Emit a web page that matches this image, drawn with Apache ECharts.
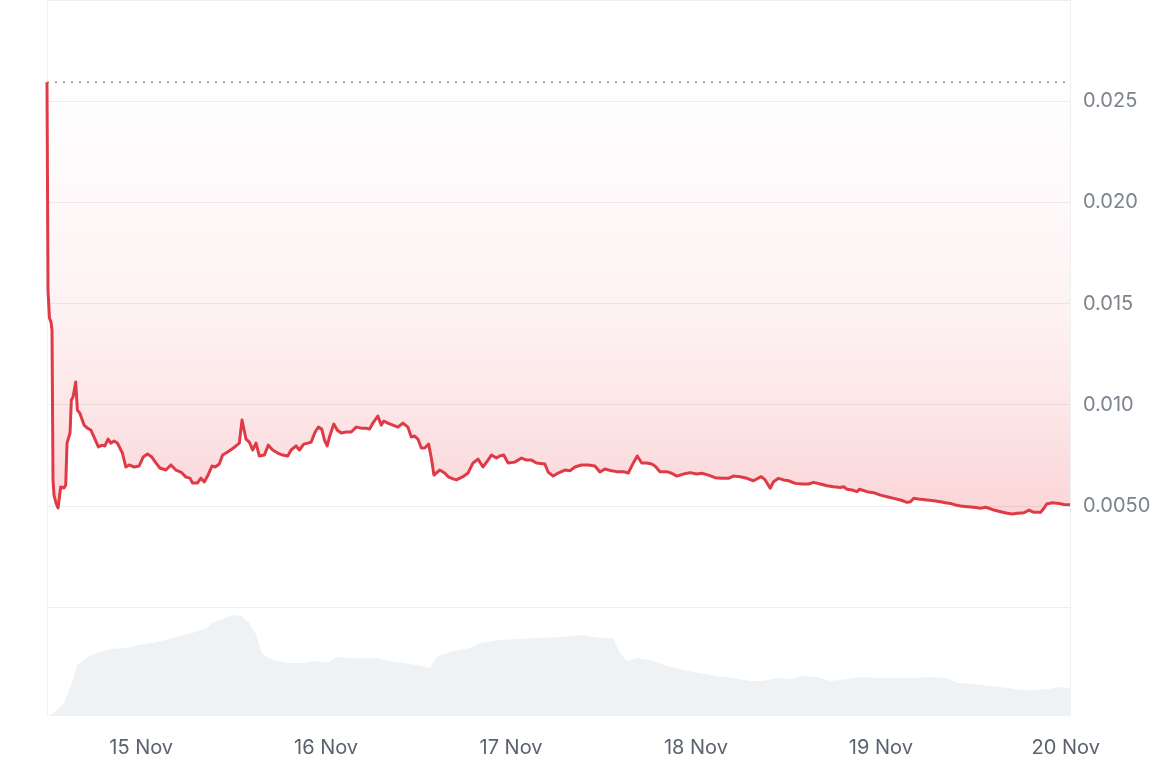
<!DOCTYPE html>
<html>
<head>
<meta charset="utf-8">
<script src="https://cdn.jsdelivr.net/npm/echarts@6/dist/echarts.min.js"></script>
<style>
  html, body { margin: 0; padding: 0; background: #ffffff; }
  #chart { width: 1165px; height: 778px; }
</style>
</head>
<body>
<div id="chart"></div>
<script>
// Time origin: 14 Nov 2024 00:00 UTC; times below are hours after it.
const ORIGIN = Date.UTC(2024, 10, 14);
const MONTHS = ['Jan','Feb','Mar','Apr','May','Jun','Jul','Aug','Sep','Oct','Nov','Dec'];

const priceHours = [
  11.78, 11.91, 12.10, 12.30, 12.43, 12.56, 12.69, 12.95, 13.21, 13.56,
  13.99, 14.21, 14.38, 14.77, 14.94, 15.16, 15.51, 15.72, 16.03, 16.59,
  17.02, 17.46, 17.89, 18.45, 18.93, 19.28, 19.71, 20.06, 20.49, 20.92,
  21.57, 22.01, 22.44, 23.09, 23.74, 24.26, 24.82, 25.39, 25.91, 26.43,
  27.21, 27.86, 28.51, 29.16, 29.81, 30.33, 30.67, 31.32, 31.76, 32.19,
  32.62, 33.19, 33.62, 34.14, 34.57, 35.22, 35.79, 36.31, 36.74, 37.09,
  37.61, 38.04, 38.47, 38.91, 39.34, 39.99, 40.51, 41.07, 41.72, 42.37,
  43.02, 43.46, 44.11, 44.54, 45.10, 45.62, 46.06, 46.58, 47.01, 47.44,
  47.79, 48.14, 48.44, 49.00, 49.44, 49.96, 50.61, 51.26, 51.91, 52.56,
  53.21, 53.64, 54.07, 54.72, 55.16, 55.50, 56.02, 56.67, 57.32, 57.97,
  58.62, 59.06, 59.49, 59.92, 60.36, 60.79, 61.31, 61.66, 62.00, 62.74,
  63.39, 63.91, 64.60, 64.91, 65.77, 66.42, 67.07, 67.72, 68.37, 69.02,
  69.46, 70.11, 70.54, 71.06, 71.62, 72.49, 73.36, 74.01, 74.66, 75.31,
  76.39, 76.82, 77.47, 78.12, 78.99, 79.64, 80.29, 81.16, 82.02, 82.89,
  83.54, 84.19, 85.06, 85.71, 86.57, 87.22, 87.87, 88.39, 88.96, 89.61,
  90.26, 90.69, 91.34, 92.21, 92.86, 93.51, 94.37, 95.24, 96.11, 96.76,
  97.62, 98.49, 99.36, 100.22, 100.87, 101.74, 102.61, 103.47, 104.47, 104.99,
  105.64, 106.07, 106.72, 107.37, 108.02, 108.89, 109.76, 110.62, 111.27, 112.14,
  113.01, 113.87, 114.74, 115.17, 115.61, 116.26, 116.91, 117.21, 118.21, 119.07,
  119.94, 120.81, 121.67, 122.54, 123.41, 123.84, 124.27, 125.14, 126.01, 126.87,
  127.74, 128.39, 129.04, 129.69, 130.34, 131.21, 132.07, 132.94, 133.59, 134.02,
  134.67, 135.54, 136.41, 137.06, 137.71, 138.57, 139.22, 139.87, 140.74, 141.17,
  141.52, 142.26, 143.12, 143.77, 144.55
];
const priceValues = [
  0.02594, 0.01566, 0.01428, 0.01408, 0.01369, 0.00628, 0.00553, 0.00514, 0.00489, 0.00593,
  0.00588, 0.00603, 0.00810, 0.00860, 0.01023, 0.01038, 0.01112, 0.00973, 0.00959, 0.00899,
  0.00884, 0.00875, 0.00840, 0.00791, 0.00800, 0.00796, 0.00830, 0.00810, 0.00820, 0.00810,
  0.00761, 0.00692, 0.00702, 0.00692, 0.00697, 0.00741, 0.00756, 0.00741, 0.00712, 0.00687,
  0.00677, 0.00702, 0.00677, 0.00667, 0.00642, 0.00637, 0.00613, 0.00613, 0.00637, 0.00618,
  0.00647, 0.00697, 0.00692, 0.00707, 0.00751, 0.00766, 0.00781, 0.00796, 0.00810, 0.00924,
  0.00830, 0.00815, 0.00776, 0.00810, 0.00746, 0.00751, 0.00800, 0.00776, 0.00761, 0.00751,
  0.00746, 0.00776, 0.00796, 0.00776, 0.00805, 0.00810, 0.00815, 0.00865, 0.00889, 0.00879,
  0.00825, 0.00796, 0.00840, 0.00904, 0.00875, 0.00860, 0.00865, 0.00865, 0.00889, 0.00884,
  0.00884, 0.00879, 0.00909, 0.00944, 0.00899, 0.00919, 0.00909, 0.00899, 0.00889, 0.00909,
  0.00889, 0.00840, 0.00845, 0.00830, 0.00786, 0.00786, 0.00805, 0.00736, 0.00652, 0.00677,
  0.00662, 0.00642, 0.00632, 0.00628, 0.00644, 0.00662, 0.00712, 0.00731, 0.00692, 0.00726,
  0.00751, 0.00736, 0.00746, 0.00751, 0.00712, 0.00716, 0.00736, 0.00726, 0.00726, 0.00712,
  0.00707, 0.00667, 0.00647, 0.00662, 0.00677, 0.00673, 0.00692, 0.00702, 0.00702, 0.00697,
  0.00667, 0.00682, 0.00673, 0.00669, 0.00669, 0.00662, 0.00712, 0.00746, 0.00712, 0.00712,
  0.00707, 0.00697, 0.00669, 0.00669, 0.00661, 0.00647, 0.00657, 0.00664, 0.00657, 0.00661,
  0.00652, 0.00639, 0.00636, 0.00636, 0.00647, 0.00644, 0.00636, 0.00624, 0.00644, 0.00628,
  0.00587, 0.00619, 0.00636, 0.00628, 0.00624, 0.00611, 0.00608, 0.00608, 0.00616, 0.00608,
  0.00599, 0.00594, 0.00591, 0.00594, 0.00582, 0.00578, 0.00570, 0.00582, 0.00570, 0.00565,
  0.00553, 0.00545, 0.00537, 0.00529, 0.00517, 0.00520, 0.00537, 0.00532, 0.00529, 0.00525,
  0.00520, 0.00515, 0.00512, 0.00504, 0.00499, 0.00496, 0.00493, 0.00488, 0.00493, 0.00488,
  0.00479, 0.00471, 0.00463, 0.00460, 0.00463, 0.00466, 0.00479, 0.00468, 0.00468, 0.00488,
  0.00509, 0.00515, 0.00512, 0.00507, 0.00505
];

// Trading volume (relative units; the reference shows no volume scale)
const volumeHours = [
  11.78, 12.69, 13.99, 15.03, 15.68, 16.85, 18.54, 20.23, 22.05, 23.74,
  25.43, 27.25, 28.94, 30.63, 32.45, 33.23, 34.53, 35.83, 37.00, 38.04,
  38.95, 39.60, 40.25, 41.55, 43.24, 44.93, 46.75, 48.05, 49.35, 51.04,
  52.73, 54.55, 56.24, 57.93, 59.75, 61.44, 62.35, 64.04, 66.64, 67.94,
  70.54, 73.14, 75.74, 78.34, 80.94, 83.54, 85.23, 86.14, 87.05, 88.48,
  90.04, 92.25, 94.33, 96.54, 98.75, 100.83, 103.04, 104.73, 106.55, 108.24,
  109.93, 111.75, 113.44, 115.65, 117.73, 119.94, 122.15, 124.23, 126.44, 128.65,
  129.95, 132.03, 134.24, 136.45, 138.14, 139.83, 141.65, 143.34, 144.55
];
const volumeValues = [
  0.0, 0.3, 1.3, 3.3, 5.1, 5.8, 6.4, 6.7, 6.8, 7.1,
  7.3, 7.6, 8.0, 8.3, 8.8, 9.3, 9.7, 10.1, 10.0, 9.3,
  8.1, 6.4, 5.9, 5.5, 5.3, 5.3, 5.5, 5.3, 5.9, 5.8,
  5.8, 5.8, 5.5, 5.3, 5.1, 4.8, 5.9, 6.4, 6.8, 7.3,
  7.6, 7.7, 7.8, 7.9, 8.1, 7.8, 7.8, 6.3, 5.5, 5.8,
  5.6, 5.0, 4.6, 4.3, 4.0, 3.8, 3.5, 3.5, 3.8, 3.7,
  4.0, 3.9, 3.5, 3.7, 3.9, 3.8, 3.8, 3.8, 3.9, 3.8,
  3.3, 3.2, 3.0, 2.8, 2.6, 2.6, 2.7, 2.9, 2.8
];

const priceTickValues = [0.005, 0.010, 0.015, 0.020, 0.025];
const priceTickLabels = ['0.0050', '0.010', '0.015', '0.020', '0.025'];

const toTime = h => ORIGIN + Math.round(h * 3600000);
const priceData = priceHours.map((h, i) => [toTime(h), priceValues[i]]);
const volumeData = volumeHours.map((h, i) => [toTime(h), volumeValues[i]]);
const tMin = toTime(priceHours[0]);
const tMax = toTime(priceHours[priceHours.length - 1]);
const maxPrice = Math.max.apply(null, priceValues);
const maxLineData = [[tMin, maxPrice], [tMax, maxPrice]];
const DAY = 86400000;

const chart = echarts.init(document.getElementById('chart'), null, { renderer: 'canvas' });
const FONT = 'Inter, "Noto Sans", sans-serif';
const borderColor = '#eef0f3';

chart.setOption({
  animation: false,
  useUTC: true,
  backgroundColor: '#ffffff',
  grid: [
    { left: 47, right: 95, top: -1, height: 608 },
    { left: 47, right: 95, top: 607, height: 109 }
  ],
  xAxis: [
    {
      type: 'time', gridIndex: 0, min: tMin, max: tMax,
      minInterval: DAY, maxInterval: DAY,
      axisLine: { show: false }, axisTick: { show: false },
      axisLabel: { show: false }, splitLine: { show: false }
    },
    {
      type: 'time', gridIndex: 1, min: tMin, max: tMax,
      minInterval: DAY, maxInterval: DAY,
      axisLine: { show: false }, axisTick: { show: false },
      splitLine: { show: false },
      axisLabel: {
        show: true, margin: 22, color: '#5b6270', fontSize: 20, fontFamily: FONT,
        showMinLabel: false, showMaxLabel: false,
        formatter: function (v) {
          const d = new Date(v);
          if (d.getUTCHours() !== 0 || d.getUTCMinutes() !== 0) return '';
          return d.getUTCDate() + ' ' + MONTHS[d.getUTCMonth()];
        }
      }
    }
  ],
  yAxis: [
    {
      type: 'value', gridIndex: 0, position: 'right', min: 0, max: 0.03, interval: 0.005,
      axisLine: { show: true, lineStyle: { color: borderColor, width: 1 } },
      axisTick: { show: false },
      splitLine: { show: true, lineStyle: { color: '#eceef1', width: 1 } },
      axisLabel: {
        show: true, margin: 13, color: '#7d838d', fontSize: 20, fontFamily: FONT,
        formatter: function (v) {
          for (let i = 0; i < priceTickValues.length; i++) {
            if (Math.abs(v - priceTickValues[i]) < 1e-9) return priceTickLabels[i];
          }
          return '';
        }
      }
    },
    {
      type: 'value', gridIndex: 0, position: 'left', min: 0, max: 0.03,
      axisLine: { show: true, lineStyle: { color: borderColor, width: 1 } },
      axisTick: { show: false }, axisLabel: { show: false }, splitLine: { show: false }
    },
    {
      type: 'value', gridIndex: 1, position: 'right', min: 0, max: 10.9,
      axisLine: { show: true, lineStyle: { color: borderColor, width: 1 } },
      axisTick: { show: false }, axisLabel: { show: false }, splitLine: { show: false }
    },
    {
      type: 'value', gridIndex: 1, position: 'left', min: 0, max: 10.9,
      axisLine: { show: true, lineStyle: { color: borderColor, width: 1 } },
      axisTick: { show: false }, axisLabel: { show: false }, splitLine: { show: false }
    }
  ],
  series: [
    {
      type: 'line', name: 'Volume', xAxisIndex: 1, yAxisIndex: 2,
      data: volumeData, symbol: 'none', silent: true,
      lineStyle: { width: 0 },
      areaStyle: { color: '#eff2f5', opacity: 1 }
    },
    {
      type: 'line', name: 'Price', xAxisIndex: 0, yAxisIndex: 0,
      data: priceData, symbol: 'none', silent: true,
      lineStyle: { color: '#e03a46', width: 3, join: 'round' },
      areaStyle: {
        origin: 'end',
        color: new echarts.graphic.LinearGradient(0, 0, 0, 1, [
          { offset: 0.0, color: 'rgba(234,57,67,0.0)' },
          { offset: 0.16, color: 'rgba(234,57,67,0.0)' },
          { offset: 0.35, color: 'rgba(234,57,67,0.04)' },
          { offset: 0.6, color: 'rgba(234,57,67,0.09)' },
          { offset: 0.8, color: 'rgba(234,57,67,0.18)' },
          { offset: 1.0, color: 'rgba(234,57,67,0.30)' }
        ])
      }
    },
    {
      type: 'line', name: 'Max', xAxisIndex: 0, yAxisIndex: 0,
      data: maxLineData, symbol: 'none', silent: true, z: 1,
      lineStyle: { color: '#8c9099', type: [2, 6], width: 1.5 }
    }
  ]
});
</script>
</body>
</html>
